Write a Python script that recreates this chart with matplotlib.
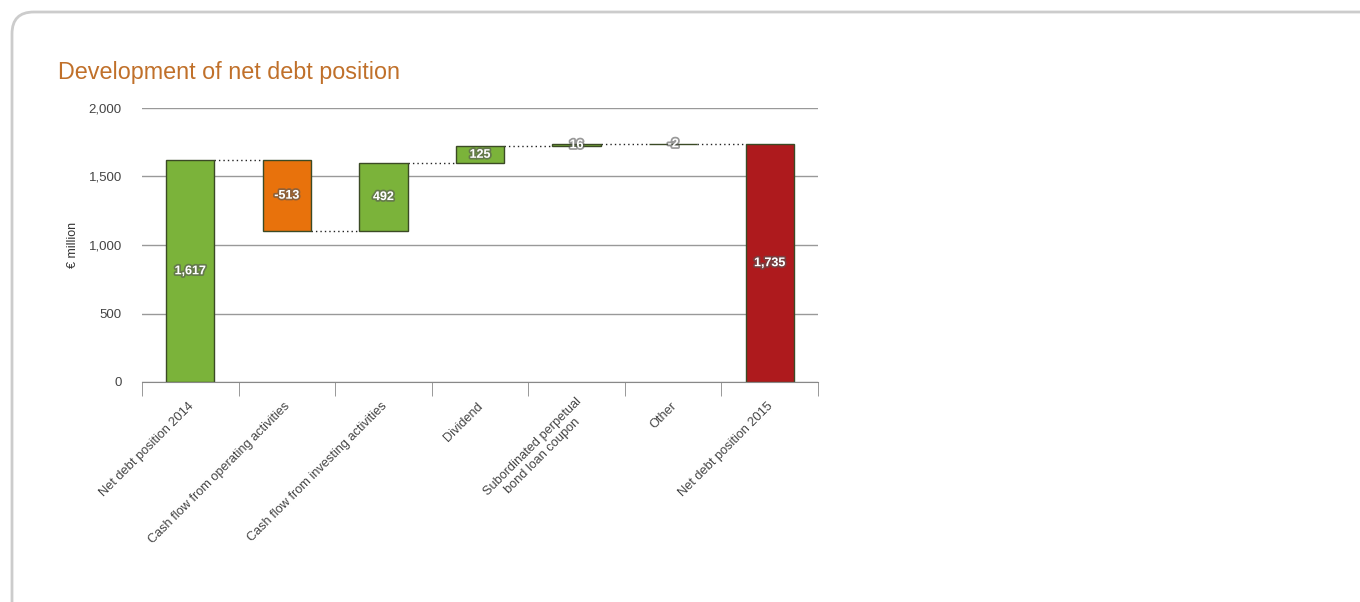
import matplotlib
matplotlib.use("Agg")
import matplotlib.pyplot as plt
import matplotlib.patheffects as pe
from matplotlib.patches import FancyBboxPatch
import numpy as np

plt.rcParams['font.family'] = ['Liberation Sans', 'DejaVu Sans']

categories = ["Net debt position 2014", "Cash flow from operating activities",
              "Cash flow from investing activities", "Dividend",
              "Subordinated perpetual\nbond loan coupon", "Other", "Net debt position 2015"]
values = [1617, -513, 492, 125, 16, -2, 1735]
labels = ["1,617", "-513", "492", "125", "16", "-2", "1,735"]
is_total = [True, False, False, False, False, False, True]
yticks = [0, 500, 1000, 1500, 2000]
ytick_labels = ["0", "500", "1,000", "1,500", "2,000"]

GREEN = "#7bb33a"
ORANGE = "#e8720c"
RED = "#ae1a1d"
EDGE = "#3b4a25"

fig = plt.figure(figsize=(13.6, 6.02), dpi=100)
frame = FancyBboxPatch((12/1360, -0.05), 1.5, 1 - 12/602 + 0.05,
                       boxstyle="round,pad=0,rounding_size=0.016",
                       transform=fig.transFigure, fc="white", ec="#cccccc", lw=2,
                       mutation_aspect=1360/602, zorder=-10)
fig.patches.append(frame)

ax = fig.add_axes([142/1360, 1 - 382/602, 676/1360, 274/602])
ax.set_facecolor("none")
ax.set_zorder(5)

x = np.arange(len(values))
bottoms, heights, colors = [], [], []
running = 0
ends = []
for v, tot in zip(values, is_total):
    if tot:
        bottoms.append(0)
        heights.append(v)
        running = v
    else:
        new = running + v
        bottoms.append(min(running, new))
        heights.append(abs(v))
        running = new
    ends.append(running)
for i, (v, tot) in enumerate(zip(values, is_total)):
    if tot:
        colors.append(GREEN if i == 0 else RED)
    else:
        colors.append(GREEN if v > 0 else ORANGE)

w = 0.5
ax.bar(x, heights, bottom=bottoms, width=w, color=colors, edgecolor=EDGE,
       linewidth=1, zorder=3)

for i in range(len(values) - 1):
    ax.plot([x[i] + w/2, x[i+1] - w/2], [ends[i], ends[i]], color="#222222",
            lw=1, ls=(0, (1, 2.2)), zorder=2)

for i, lab in enumerate(labels):
    yc = bottoms[i] + heights[i] / 2
    ax.text(x[i], yc, lab, ha="center", va="center", color="white",
            fontsize=9, fontweight="bold", zorder=5,
            path_effects=[pe.withStroke(linewidth=2.5, foreground="#555555", alpha=0.6)])

ax.set_xlim(-0.5, len(values) - 0.5)
ax.set_ylim(0, 2000)
ax.set_yticks(yticks)
ax.set_yticklabels(ytick_labels, fontsize=9.5, color="#444444")
ax.tick_params(axis="y", length=0, pad=14.5)
ax.grid(axis="y", color="#999999", lw=1, zorder=0)
ax.set_axisbelow(True)
for s in ["left", "right", "top"]:
    ax.spines[s].set_visible(False)
ax.spines["bottom"].set_color("#888888")
ax.spines["bottom"].set_zorder(4)

ax.set_xticks(x)
ax.set_xticklabels([])
ax.tick_params(axis="x", which="major", length=0)
ax.set_xticks(np.arange(-0.5, len(values)), minor=True)
ax.tick_params(axis="x", which="minor", length=10, color="#888888", direction="out")

for i, c in enumerate(categories):
    dx = 6 if "\n" in c else 1
    ax.annotate(c, xy=(x[i], 0), xycoords="data", xytext=(dx, -16),
                textcoords="offset points", rotation=45, rotation_mode="anchor",
                ha="right", va="center", multialignment="center",
                fontsize=9.2, color="#444444")

ax.set_ylabel("€ million", fontsize=9, color="#333333", labelpad=7)

fig.text(58/1360, 1 - 73/602, "Development of net debt position", fontsize=16.8,
         color="#c0702a", ha="left", va="center")

fig.savefig("out.png", dpi=100)
